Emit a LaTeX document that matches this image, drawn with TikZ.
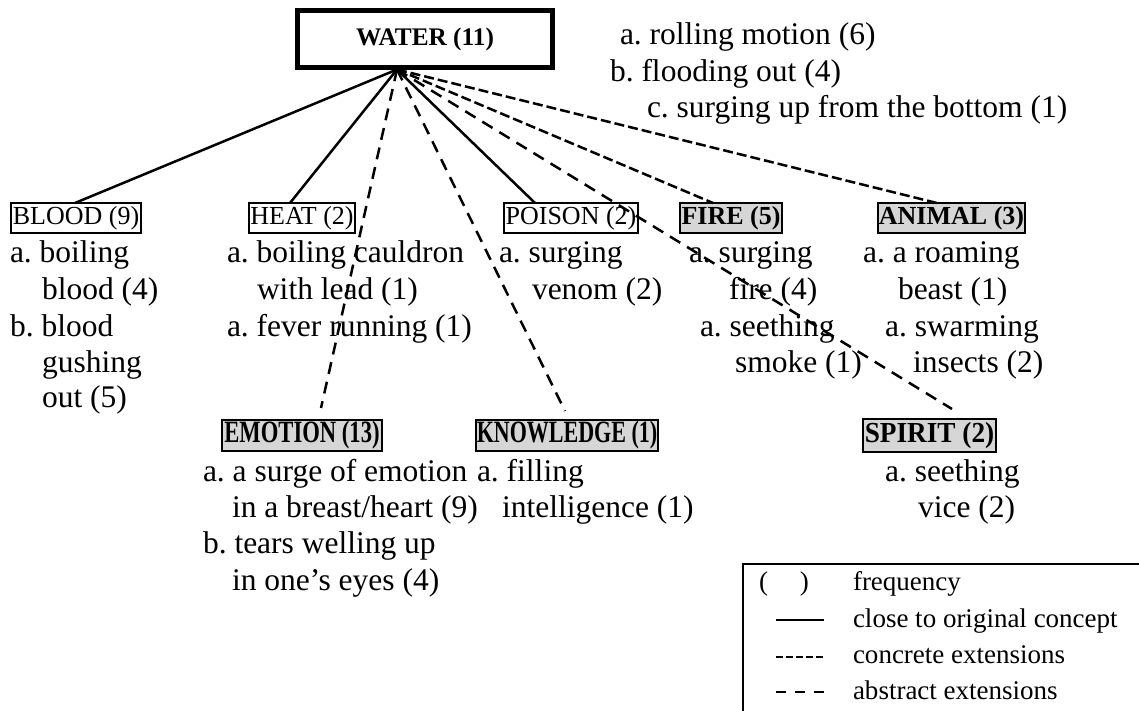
\documentclass[tikz,border=0pt]{standalone}
\usepackage{fontspec}
\setmainfont{Liberation Serif}
\frenchspacing
\begin{document}
\begin{tikzpicture}[x=0.4pt,y=-0.4pt,
  every node/.style={inner sep=0pt, outer sep=0pt},
  labelbox/.style={draw, line width=0.8pt, inner sep=0.4pt, minimum height=12pt,
    font=\fontsize{10.4}{12}\selectfont},
  catbox/.style={labelbox, fill=black!16, font=\fontsize{10.4}{12}\selectfont\bfseries},
  item/.style={anchor=base west, font=\fontsize{12.6}{14.4}\selectfont},
  legtext/.style={anchor=base west, font=\fontsize{10.8}{13}\selectfont},
  link/.style={line width=1pt},
  closelink/.style={link},
  concrete/.style={link, dash pattern=on 4pt off 1.6pt},
  abstract/.style={link, dash pattern=on 4.8pt off 3.2pt},
]
\useasboundingbox (0,0) rectangle (1139,711);

% source concept
\node[draw, line width=2pt, minimum width=102pt, minimum height=22.8pt,
  font=\fontsize{10.12}{12}\selectfont\bfseries] (water) at (425,39) {WATER (11)};

% target domains
\node[labelbox, minimum width=52pt] (blood) at (76,218) {BLOOD (9)};
\node[labelbox, minimum width=42.4pt] (heat) at (302,218) {HEAT (2)};
\node[labelbox, minimum width=53.6pt] (poison) at (571,218) {POISON (2)};
\node[catbox, minimum width=40.8pt] (fire) at (731,218) {FIRE (5)};
\node[catbox, minimum width=58.8pt] (animal) at (951.5,218) {ANIMAL (3)};
\node[catbox, minimum width=64pt, minimum height=12.4pt] (emotion) at (302,435.5)
  {\fontsize{12.4}{14}\selectfont\scalebox{0.73}[1]{EMOTION (13)}};
\node[catbox, minimum width=72pt, minimum height=12.4pt] (knowledge) at (567,435.5)
  {\fontsize{12.4}{14}\selectfont\scalebox{0.71}[1]{KNOWLEDGE (1)}};
\node[catbox, minimum width=53.2pt, minimum height=13.2pt] (spirit) at (929.5,435.5)
  {\fontsize{11.6}{14}\selectfont\scalebox{0.94}[1]{SPIRIT (2)}};

% connectors from the source concept
\coordinate (hub) at ([xshift=-11.2pt,yshift=-0.8pt]water.south);
\draw[closelink] (hub) -- ([xshift=-0.4pt]blood.north);
\draw[closelink] (hub) -- ([xshift=-4.8pt]heat.north);
\draw[abstract] (hub) -- ([xshift=7.6pt,yshift=4.8pt]emotion.north);
\draw[abstract] (hub) -- ([xshift=-0.8pt,yshift=3.6pt]knowledge.north);
\draw[closelink] (hub) -- ([xshift=-14.4pt]poison.north);
\draw[abstract] (hub) -- ([xshift=9pt,yshift=4pt]spirit.north);
\draw[concrete] (hub) -- ([xshift=-7.2pt]fire.north);
\draw[concrete] (hub) -- ([xshift=-5.8pt]animal.north);

% water items
\node[item] (w1) at (620,45) {a. rolling motion (6)};
\node[item] (w2) at (610,82) {b. flooding out (4)};
\node[item] (w3) at (647,118) {c. surging up from the bottom (1)};

% blood items
\node[item] (b1) at (10,263) {a. boiling};
\node[item] (b2) at (42,300) {blood (4)};
\node[item] (b3) at (10,337) {b. blood};
\node[item] (b4) at (42,373) {gushing};
\node[item] (b5) at (42,408) {out (5)};

% heat items
\node[item] (h1) at (227,263) {a. boiling cauldron};
\node[item] (h2) at (257,300) {with lead (1)};
\node[item] (h3) at (227,337) {a. fever running (1)};

% poison items
\node[item] (p1) at (499,263) {a. surging};
\node[item] (p2) at (532,300) {venom (2)};

% fire items
\node[item] (f1) at (689,263) {a. surging};
\node[item] (f2) at (729,300) {fire (4)};
\node[item] (f3) at (700,337) {a. seething};
\node[item] (f4) at (735,373) {smoke (1)};

% animal items
\node[item] (a1) at (863,263) {a. a roaming};
\node[item] (a2) at (898,300) {beast (1)};
\node[item] (a3) at (885,337) {a. swarming};
\node[item] (a4) at (913,373) {insects (2)};

% emotion items
\node[item] (e1) at (203,482) {a. a surge of emotion};
\node[item] (e2) at (232,517) {in a breast/heart (9)};
\node[item] (e3) at (203,553) {b. tears welling up};
\node[item] (e4) at (232,590) {in one’s eyes (4)};

% knowledge items
\node[item] (k1) at (477,482) {a. filling};
\node[item] (k2) at (502,517) {intelligence (1)};

% spirit items
\node[item] (s1) at (885,482) {a. seething};
\node[item] (s2) at (918,517) {vice (2)};

% legend
\draw[line width=0.8pt] (743,711) -- (743,564) -- (1139,564);
\node[legtext] (lg0) at (759,590) {(\hspace{12.8pt})};
\node[legtext] (lg1) at (853,590) {frequency};
\node[legtext] (lg2) at (853,627) {close to original concept};
\node[legtext] (lg3) at (853,663) {concrete extensions};
\node[legtext] (lg4) at (853,699) {abstract extensions};
\draw[line width=1.04pt] (776,620) -- (824,620);
\draw[line width=0.88pt, dash pattern=on 2.8pt off 1.2pt] (776,657) -- (824,657);
\draw[line width=0.88pt, dash pattern=on 4pt off 3.6pt] (776,692) -- (824,692);
\end{tikzpicture}
\end{document}
